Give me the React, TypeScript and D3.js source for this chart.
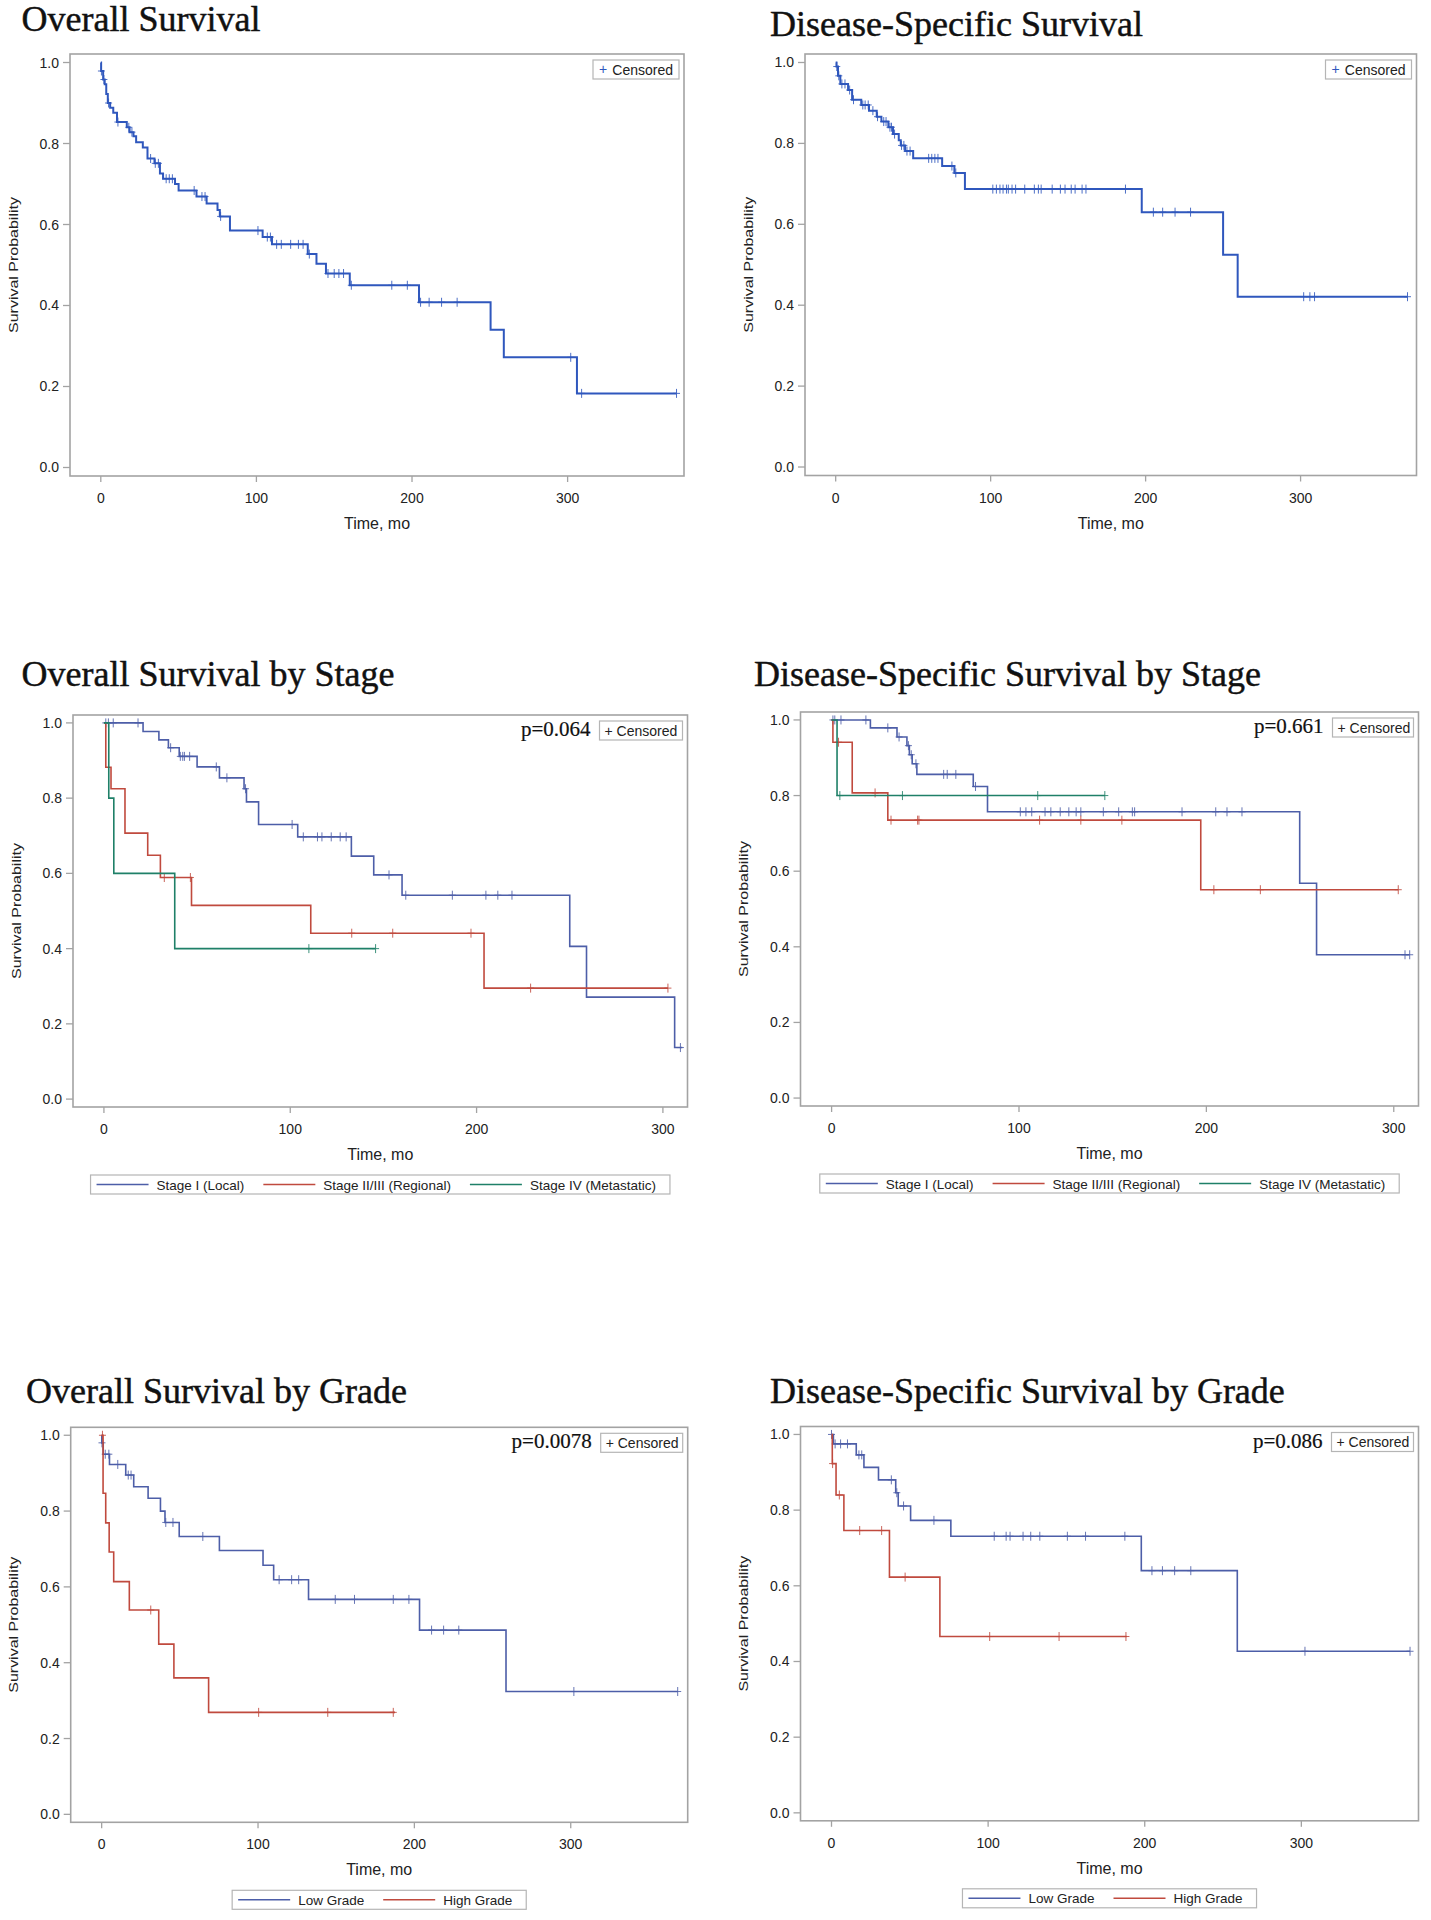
import React from 'react';
import * as d3 from 'd3';

// ---------- DATA ----------
const xTicks = [0, 100, 200, 300];
const yTicks = [0, 0.2, 0.4, 0.6, 0.8, 1.0];

// Overall Survival
const osTimes = [0, 0.2, 1.5, 2.5, 3.5, 4.5, 6, 8, 10.4, 16.7, 18.5, 21, 22.7, 27, 30, 34.5, 38, 40, 47.7, 50, 61.5, 68, 75, 76.5, 83, 104, 110, 133, 138.6, 144.7, 160, 204.5, 250.5, 259, 306];
const osSurv = [1.0, 0.979, 0.958, 0.946, 0.922, 0.9, 0.888, 0.876, 0.853, 0.84, 0.828, 0.818, 0.803, 0.79, 0.763, 0.751, 0.726, 0.713, 0.7, 0.684, 0.669, 0.652, 0.636, 0.62, 0.585, 0.569, 0.551, 0.527, 0.503, 0.479, 0.45, 0.408, 0.34, 0.272, 0.183];
const osCensor = [0.4, 2, 5, 11, 18, 20, 32, 35, 37, 42, 44, 46, 60, 65, 67, 77, 101, 107, 109, 113, 116, 122, 127, 130, 134, 146, 150, 153, 156, 161, 187, 197, 205.5, 211, 219, 229, 302, 309, 370];
const osEnd = 370;

// Disease-Specific Survival
const dssTimes = [0, 0.5, 1.5, 3, 8, 10.6, 16.5, 21.5, 26.5, 29.5, 34, 37, 40.7, 42, 44.8, 50, 68.7, 76.6, 83.4, 197.5, 250, 259.4];
const dssSurv = [1.0, 0.99, 0.967, 0.947, 0.932, 0.908, 0.895, 0.881, 0.866, 0.854, 0.84, 0.823, 0.808, 0.795, 0.781, 0.763, 0.744, 0.727, 0.687, 0.63, 0.525, 0.421];
const dssCensor = [0.7, 2, 4, 6, 9, 11.5, 17.5, 19, 21, 24, 27, 31, 32.5, 35, 36, 38, 42.5, 44, 46, 48, 60, 62, 64, 66, 75, 77.5, 101.4, 103.7, 106, 108, 110.2, 111.4, 113.8, 116.1, 122, 128.2, 130.8, 132.6, 139.7, 145, 148, 152, 154.5, 159, 161.5, 187, 205, 211, 219, 229, 302, 306, 309, 369];
const dssEnd = 369;

// Overall Survival by Stage
const osS1Times = [0, 21, 29.5, 34.6, 40.4, 50, 62, 75.2, 76.5, 83, 104, 132.8, 144.8, 160, 250, 259, 306.3];
const osS1Surv = [1.0, 0.977, 0.955, 0.934, 0.911, 0.883, 0.854, 0.825, 0.79, 0.73, 0.697, 0.646, 0.596, 0.542, 0.406, 0.271, 0.137];
const osS1Censor = [1, 2.4, 5, 18.3, 35.8, 41, 42.3, 43.2, 46, 60.3, 66, 76, 101, 107, 114.6, 117, 122, 126.8, 130, 153, 162, 187, 205, 211.4, 219, 309.4];
const osS1End = 310.4;
const osS2Times = [0, 1.0, 3.8, 11.3, 23.5, 30.3, 47, 111, 204];
const osS2Surv = [1.0, 0.882, 0.825, 0.707, 0.648, 0.589, 0.515, 0.441, 0.295];
const osS2Censor = [32.4, 46.4, 133, 155, 197, 229, 302.7];
const osS2End = 302.7;
const osS3Times = [0, 2.6, 5.3, 38];
const osS3Surv = [1.0, 0.8, 0.6, 0.4];
const osS3Censor = [110, 145.8];
const osS3End = 145.8;

// Disease-Specific Survival by Stage
const dssS1Times = [0, 20.7, 34.9, 40.2, 41.5, 43, 45.5, 75.6, 83.2, 249.8, 258.8];
const dssS1Surv = [1.0, 0.979, 0.955, 0.932, 0.908, 0.884, 0.856, 0.824, 0.757, 0.568, 0.379];
const dssS1Censor = [0.7, 1.7, 5, 18.3, 30, 36, 41, 42.5, 45, 59.8, 61.7, 66.3, 76.8, 100.7, 103.7, 106.8, 113.9, 117, 122, 126.6, 130.5, 133, 145, 153.2, 160.5, 161.7, 187, 205, 211, 219, 306, 308.5];
const dssS1End = 308.5;
const dssS2Times = [0, 0.7, 11, 30, 197];
const dssS2Surv = [1.0, 0.941, 0.807, 0.735, 0.551];
const dssS2Censor = [3.7, 23.2, 31.7, 45.9, 46.6, 111, 133, 154.9, 204, 228.8, 302.4];
const dssS2End = 302.4;
const dssS3Times = [0, 2.9];
const dssS3Surv = [1.0, 0.8];
const dssS3Censor = [4.4, 37.8, 110, 145.8];
const dssS3End = 145.8;

// Overall Survival by Grade
const osLowTimes = [0, 0.1, 1, 5, 15.4, 20.5, 29.7, 37.6, 40.5, 49.6, 75.3, 103.2, 110, 132.3, 203.3, 258.6];
const osLowSurv = [1.0, 0.98, 0.95, 0.923, 0.895, 0.864, 0.834, 0.8, 0.77, 0.733, 0.696, 0.657, 0.619, 0.567, 0.486, 0.324];
const osLowCensor = [0.2, 2.3, 4.6, 10.3, 17, 18.8, 41, 45.6, 64.7, 113.5, 121.5, 126, 149.4, 161.7, 186.5, 196.5, 211, 218.7, 228.4, 302, 368.4];
const osLowEnd = 368.4;
const osHighTimes = [0, 0.9, 2.6, 4.8, 7.7, 17.7, 36.5, 46.2, 68.4];
const osHighSurv = [1.0, 0.847, 0.769, 0.692, 0.614, 0.539, 0.449, 0.36, 0.269];
const osHighCensor = [0.5, 31.4, 100.4, 144.6, 186.5];
const osHighEnd = 187.6;

// Disease-Specific Survival by Grade
const dssLowTimes = [0, 1.2, 15.8, 20.7, 30, 41, 42.6, 50.5, 76.2, 197.8, 259.1];
const dssLowSurv = [1.0, 0.975, 0.946, 0.913, 0.88, 0.846, 0.811, 0.773, 0.731, 0.64, 0.427];
const dssLowCensor = [0, 2.3, 5.8, 10.2, 17.5, 19.3, 38.2, 41.7, 46, 65.4, 103.9, 111.5, 114, 122.3, 127.2, 133, 150.6, 162.2, 187.3, 204.6, 211.3, 219.1, 229.4, 302.3, 369.4];
const dssLowEnd = 369.4;
const dssHighTimes = [0, 0.5, 2.9, 7.9, 37, 69.2];
const dssHighSurv = [1.0, 0.923, 0.84, 0.746, 0.623, 0.466];
const dssHighCensor = [0.7, 5, 18, 32, 47, 101, 145.3, 188];
const dssHighEnd = 188.5;

const stageLabels = ['Stage I (Local)', 'Stage II/III (Regional)', 'Stage IV (Metastatic)'];
const gradeLabels = ['Low Grade', 'High Grade'];

// ---------- STYLE ----------
const SINGLE_BLUE = '#2f57bd';
const BLUE = '#4d5ea8';
const RED = '#c04a3e';
const GREEN = '#1f8068';
const FRAME = '#a3a3a3';
const SANS = "'Liberation Sans', Arial, sans-serif";
const SERIF = "'Liberation Serif', 'Times New Roman', serif";

type Curve = { times: number[]; surv: number[]; censor: number[]; end: number; color: string; label?: string; width: number };

const measureCtx = typeof document !== 'undefined' ? document.createElement('canvas').getContext('2d') : null;
function textWidth(s: string, font: string): number {
  if (!measureCtx) return s.length * 7;
  measureCtx.font = font;
  return measureCtx.measureText(s).width;
}

function survAt(c: Curve, t: number): number {
  let v = c.surv[0];
  for (let i = 0; i < c.times.length; i++) {
    if (c.times[i] <= t) v = c.surv[i];
  }
  return v;
}

type PanelProps = {
  title: string;
  titleX: number;
  titleY: number;
  fx: number; fy: number; fw: number; fh: number;
  xDomain: [number, number];
  curves: Curve[];
  pValue?: string;
  single: boolean;
  legendW: number;
};

function Panel(p: PanelProps) {
  const x = d3.scaleLinear().domain(p.xDomain).range([p.fx, p.fx + p.fw]);
  const y = d3.scaleLinear().domain([-0.021, 1.021]).range([p.fy + p.fh, p.fy]);
  const line = d3.line<[number, number]>().x(d => x(d[0])).y(d => y(d[1])).curve(d3.curveStepAfter);
  const bottom = p.fy + p.fh;
  const cx = p.fx + p.fw / 2;
  const cy = p.fy + p.fh / 2;

  const boxR = p.fx + p.fw - 5;
  const boxL = boxR - p.legendW;
  const boxT = p.fy + 6;

  const showLegend = !p.single;
  const legFont = `13.5px ${SANS}`;
  const items = showLegend ? p.curves.map(c => ({ c, w: textWidth(c.label || '', legFont) })) : [];
  const lineLen = 52, gapLT = 8, gapItems = 19, padL = 6, padR = 14;
  const legTotal = items.reduce((a, it) => a + lineLen + gapLT + it.w, 0) + Math.max(0, items.length - 1) * gapItems + padL + padR;
  const legL = cx - legTotal / 2;
  const legT = bottom + 68;
  let cursor = legL + padL;
  const legItems = items.map(it => {
    const start = cursor;
    cursor += lineLen + gapLT + it.w + gapItems;
    return { ...it, start };
  });

  return (
    <g>
      <text x={p.titleX} y={p.titleY} fontFamily={SERIF} fontSize={36} fill="#111" stroke="#111" strokeWidth={0.45}>{p.title}</text>
      {p.curves.map((c, i) => {
        const pts: [number, number][] = c.times.map((t, j) => [t, c.surv[j]] as [number, number]);
        pts.push([c.end, c.surv[c.surv.length - 1]]);
        return (
          <g key={i}>
            <path d={line(pts) || ''} fill="none" stroke={c.color} strokeWidth={c.width} />
            {c.censor.map((t, j) => {
              const px = x(t), py = y(survAt(c, t));
              return (
                <g key={j} stroke={c.color} strokeWidth={1} opacity={0.85}>
                  <line x1={px} x2={px} y1={py - 4.5} y2={py + 4.5} />
                  <line x1={px - 3.5} x2={px + 3.5} y1={py} y2={py} />
                </g>
              );
            })}
          </g>
        );
      })}
      <rect x={p.fx} y={p.fy} width={p.fw} height={p.fh} fill="none" stroke={FRAME} strokeWidth={1.6} />
      {yTicks.map(v => (
        <g key={v}>
          <line x1={p.fx - 7} x2={p.fx} y1={y(v)} y2={y(v)} stroke={FRAME} strokeWidth={1.3} />
          <text x={p.fx - 11} y={y(v) + 5} textAnchor="end" fontFamily={SANS} fontSize={14} fill="#222">{d3.format('.1f')(v)}</text>
        </g>
      ))}
      {xTicks.map(v => (
        <g key={v}>
          <line x1={x(v)} x2={x(v)} y1={bottom} y2={bottom + 6} stroke={FRAME} strokeWidth={1.3} />
          <text x={x(v)} y={bottom + 27} textAnchor="middle" fontFamily={SANS} fontSize={14} fill="#222">{v}</text>
        </g>
      ))}
      <text x={cx} y={bottom + 53} textAnchor="middle" fontFamily={SANS} fontSize={16} fill="#222">Time, mo</text>
      <text transform={`translate(${p.fx - 57},${cy}) rotate(-90) scale(1,0.85)`} textAnchor="middle" dominantBaseline="central" fontFamily={SANS} fontSize={16} fill="#222">Survival Probability</text>
      <rect x={boxL} y={boxT} width={p.legendW} height={19} fill="#fff" stroke="#b5b5b5" strokeWidth={1.2} />
      {p.single ? (
        <g>
          <text x={boxL + 6} y={boxT + 14} fontFamily={SANS} fontSize={14} fill={SINGLE_BLUE}>+</text>
          <text x={boxR - 6} y={boxT + 14.5} textAnchor="end" fontFamily={SANS} fontSize={14} fill="#222">Censored</text>
        </g>
      ) : (
        <text x={boxL + 5} y={boxT + 14.5} fontFamily={SANS} fontSize={14} fill="#222">+ Censored</text>
      )}
      {p.pValue && (
        <text x={boxL - 9} y={boxT + 15} textAnchor="end" fontFamily={SERIF} fontSize={21} fill="#111" stroke="#111" strokeWidth={0.2}>{p.pValue}</text>
      )}
      {showLegend && (
        <g>
          <rect x={legL} y={legT} width={legTotal} height={19} fill="#fff" stroke="#b5b5b5" strokeWidth={1.2} />
          {legItems.map((it, i) => (
            <g key={i}>
              <line x1={it.start} x2={it.start + lineLen} y1={legT + 9.5} y2={legT + 9.5} stroke={it.c.color} strokeWidth={1.6} />
              <text x={it.start + lineLen + gapLT} y={legT + 14.5} fontFamily={SANS} fontSize={13.5} fill="#222">{it.c.label}</text>
            </g>
          ))}
        </g>
      )}
    </g>
  );
}

export default function App() {
  const osCurves: Curve[] = [{ times: osTimes, surv: osSurv, censor: osCensor, end: osEnd, color: SINGLE_BLUE, width: 2 }];
  const dssCurves: Curve[] = [{ times: dssTimes, surv: dssSurv, censor: dssCensor, end: dssEnd, color: SINGLE_BLUE, width: 2 }];
  const osStage: Curve[] = [
    { times: osS1Times, surv: osS1Surv, censor: osS1Censor, end: osS1End, color: BLUE, label: stageLabels[0], width: 1.6 },
    { times: osS2Times, surv: osS2Surv, censor: osS2Censor, end: osS2End, color: RED, label: stageLabels[1], width: 1.6 },
    { times: osS3Times, surv: osS3Surv, censor: osS3Censor, end: osS3End, color: GREEN, label: stageLabels[2], width: 1.6 },
  ];
  const dssStage: Curve[] = [
    { times: dssS1Times, surv: dssS1Surv, censor: dssS1Censor, end: dssS1End, color: BLUE, label: stageLabels[0], width: 1.6 },
    { times: dssS2Times, surv: dssS2Surv, censor: dssS2Censor, end: dssS2End, color: RED, label: stageLabels[1], width: 1.6 },
    { times: dssS3Times, surv: dssS3Surv, censor: dssS3Censor, end: dssS3End, color: GREEN, label: stageLabels[2], width: 1.6 },
  ];
  const osGrade: Curve[] = [
    { times: osLowTimes, surv: osLowSurv, censor: osLowCensor, end: osLowEnd, color: BLUE, label: gradeLabels[0], width: 1.6 },
    { times: osHighTimes, surv: osHighSurv, censor: osHighCensor, end: osHighEnd, color: RED, label: gradeLabels[1], width: 1.6 },
  ];
  const dssGrade: Curve[] = [
    { times: dssLowTimes, surv: dssLowSurv, censor: dssLowCensor, end: dssLowEnd, color: BLUE, label: gradeLabels[0], width: 1.6 },
    { times: dssHighTimes, surv: dssHighSurv, censor: dssHighCensor, end: dssHighEnd, color: RED, label: gradeLabels[1], width: 1.6 },
  ];
  const wide: [number, number] = [-19.8, 374.8];
  const mid: [number, number] = [-16.6, 313.2];
  return (
    <svg width={1431} height={1920} style={{ position: 'absolute', left: 0, top: 0, background: '#fff' }}>
      <rect x={0} y={0} width={1431} height={1920} fill="#fff" />
      <Panel title="Overall Survival" titleX={21.5} titleY={31} fx={70} fy={54} fw={614} fh={422} xDomain={wide} curves={osCurves} single={true} legendW={86} />
      <Panel title="Disease-Specific Survival" titleX={770} titleY={35.5} fx={805} fy={54} fw={611.5} fh={421.5} xDomain={wide} curves={dssCurves} single={true} legendW={86} />
      <Panel title="Overall Survival by Stage" titleX={21.5} titleY={686} fx={73} fy={715} fw={614.5} fh={392} xDomain={mid} curves={osStage} pValue="p=0.064" single={false} legendW={83} />
      <Panel title="Disease-Specific Survival by Stage" titleX={754} titleY={686} fx={800.5} fy={712} fw={618} fh={394} xDomain={mid} curves={dssStage} pValue="p=0.661" single={false} legendW={81} />
      <Panel title="Overall Survival by Grade" titleX={26} titleY={1402.5} fx={70.7} fy={1427.3} fw={617} fh={395} xDomain={wide} curves={osGrade} pValue="p=0.0078" single={false} legendW={82} />
      <Panel title="Disease-Specific Survival by Grade" titleX={770} titleY={1402.5} fx={800.5} fy={1426.5} fw={618} fh={394.3} xDomain={wide} curves={dssGrade} pValue="p=0.086" single={false} legendW={82} />
    </svg>
  );
}
